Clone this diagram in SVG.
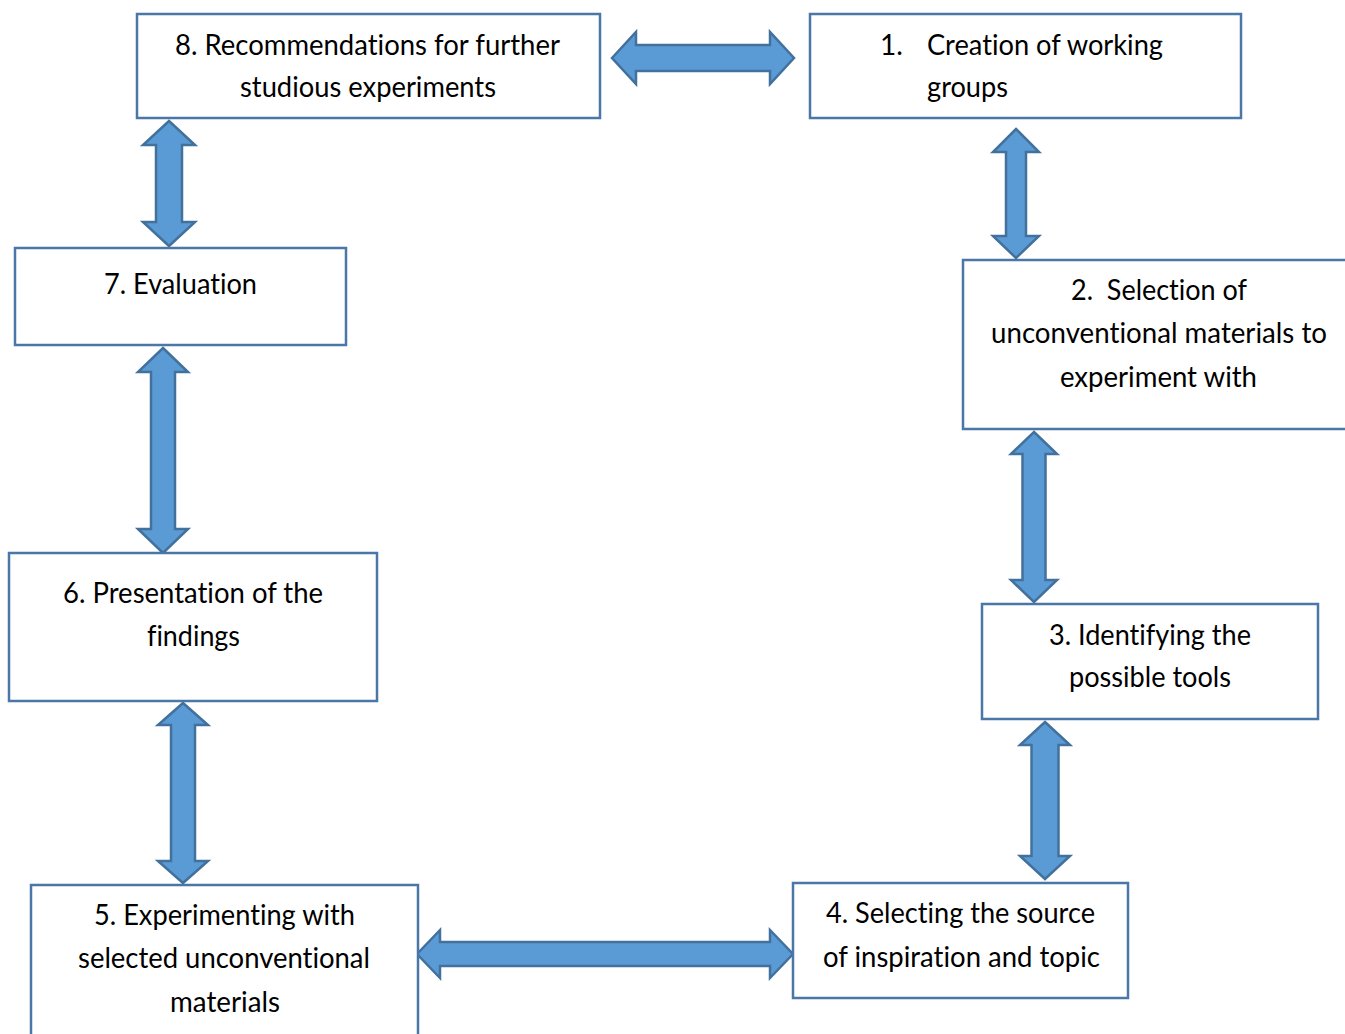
<svg xmlns="http://www.w3.org/2000/svg" width="1345" height="1034" viewBox="0 0 1345 1034">
<style>
.box{fill:#ffffff;stroke:#4a76a8;stroke-width:2.5}
.arr{fill:#5b9bd5;stroke:#41719c;stroke-width:2.5;stroke-linejoin:miter}
text{font-family:Lato,"Noto Sans","Liberation Sans",sans-serif;font-size:28px;fill:#000000;font-variant-ligatures:none;font-feature-settings:"liga" 0,"clig" 0,"dlig" 0}
.c{text-anchor:middle}
</style>
<rect width="1345" height="1034" fill="#ffffff"/>
<g id="connectors">
<path class="arr" d="M612,58 L636,32 L636,45 L770,45 L770,32 L794,58 L770,84 L770,71 L636,71 L636,84 Z"/>
<path class="arr" d="M169,121 L195,145 L182,145 L182,222 L195,222 L169,246 L143,222 L156,222 L156,145 L143,145 Z"/>
<path class="arr" d="M1016,129 L1039,152 L1026,152 L1026,236 L1039,236 L1016,258 L993,236 L1006,236 L1006,152 L993,152 Z"/>
<path class="arr" d="M1034,432 L1057,454 L1045.5,454 L1045.5,580 L1057,580 L1034,602 L1011,580 L1022.5,580 L1022.5,454 L1011,454 Z"/>
<path class="arr" d="M1045,722 L1070,745 L1058.5,745 L1058.5,856 L1070,856 L1045,879 L1020,856 L1031.5,856 L1031.5,745 L1020,745 Z"/>
<path class="arr" d="M163,348 L188,372 L175,372 L175,529 L188,529 L163,553 L138,529 L151,529 L151,372 L138,372 Z"/>
<path class="arr" d="M183,703 L208,725 L195,725 L195,861 L208,861 L183,883 L158,861 L171,861 L171,725 L158,725 Z"/>
<path class="arr" d="M417,954 L440,930 L440,942 L770,942 L770,930 L793,954 L770,978 L770,966 L440,966 L440,978 Z"/>
</g>
<g id="node8">
<rect class="box" x="137" y="14" width="463" height="104"/>
<text class="c" x="367.5" y="55" textLength="385" lengthAdjust="spacingAndGlyphs">8. Recommendations for further</text>
<text class="c" x="368" y="97" textLength="256" lengthAdjust="spacingAndGlyphs">studious experiments</text>
</g>
<g id="node1">
<rect class="box" x="810" y="14" width="431" height="104"/>
<text x="880" y="55">1.</text>
<text x="927" y="55" textLength="236" lengthAdjust="spacingAndGlyphs">Creation of working</text>
<text x="927" y="97" textLength="81" lengthAdjust="spacingAndGlyphs">groups</text>
</g>
<g id="node7">
<rect class="box" x="15" y="248" width="331" height="97"/>
<text class="c" x="180.5" y="294" textLength="153" lengthAdjust="spacingAndGlyphs">7. Evaluation</text>
</g>
<g id="node2">
<rect class="box" x="963" y="260" width="392" height="169"/>
<text class="c" x="1159" y="300" textLength="176" lengthAdjust="spacingAndGlyphs" xml:space="preserve">2.  Selection of</text>
<text class="c" x="1159" y="343" textLength="336" lengthAdjust="spacingAndGlyphs">unconventional materials to</text>
<text class="c" x="1158.5" y="387" textLength="197" lengthAdjust="spacingAndGlyphs">experiment with</text>
</g>
<g id="node3">
<rect class="box" x="982" y="604" width="336" height="115"/>
<text class="c" x="1150" y="645" textLength="202" lengthAdjust="spacingAndGlyphs">3. Identifying the</text>
<text class="c" x="1150" y="687" textLength="162" lengthAdjust="spacingAndGlyphs">possible tools</text>
</g>
<g id="node6">
<rect class="box" x="9" y="553" width="368" height="148"/>
<text class="c" x="193" y="603" textLength="260" lengthAdjust="spacingAndGlyphs">6. Presentation of the</text>
<text class="c" x="193.5" y="646" textLength="93" lengthAdjust="spacingAndGlyphs">findings</text>
</g>
<g id="node5">
<rect class="box" x="31" y="885" width="387" height="160"/>
<text class="c" x="224.5" y="925" textLength="261" lengthAdjust="spacingAndGlyphs">5. Experimenting with</text>
<text class="c" x="224" y="968" textLength="292" lengthAdjust="spacingAndGlyphs">selected unconventional</text>
<text class="c" x="225" y="1012" textLength="110" lengthAdjust="spacingAndGlyphs">materials</text>
</g>
<g id="node4">
<rect class="box" x="793" y="883" width="335" height="115"/>
<text class="c" x="960.5" y="923" textLength="269" lengthAdjust="spacingAndGlyphs">4. Selecting the source</text>
<text class="c" x="961.5" y="967" textLength="277" lengthAdjust="spacingAndGlyphs">of inspiration and topic</text>
</g>
</svg>
